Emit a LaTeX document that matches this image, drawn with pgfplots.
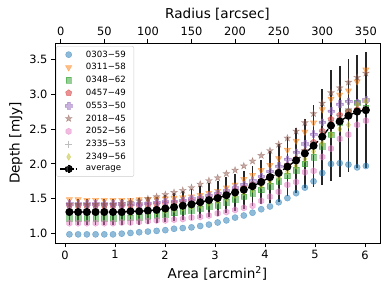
\documentclass[border=0pt]{standalone}
\usepackage{fontspec}
\setmainfont{DejaVu Sans}
\usepackage{pgfplots}
\pgfplotsset{compat=1.18}
\usepackage{pgfplotstable}
\usetikzlibrary{plotmarks}

\definecolor{tabblue}{HTML}{1F77B4}
\definecolor{taborange}{HTML}{FF7F0E}
\definecolor{tabgreen}{HTML}{2CA02C}
\definecolor{tabred}{HTML}{D62728}
\definecolor{tabpurple}{HTML}{9467BD}
\definecolor{tabbrown}{HTML}{8C564B}
\definecolor{tabpink}{HTML}{E377C2}
\definecolor{tabgray}{HTML}{7F7F7F}
\definecolor{tabolive}{HTML}{BCBD22}

\pgfdeclareplotmark{fstar}{%
  \pgfpathmoveto{\pgfpointpolar{90}{\pgfplotmarksize}}%
  \pgfpathlineto{\pgfpointpolar{126}{0.382\pgfplotmarksize}}%
  \pgfpathlineto{\pgfpointpolar{162}{\pgfplotmarksize}}%
  \pgfpathlineto{\pgfpointpolar{198}{0.382\pgfplotmarksize}}%
  \pgfpathlineto{\pgfpointpolar{234}{\pgfplotmarksize}}%
  \pgfpathlineto{\pgfpointpolar{270}{0.382\pgfplotmarksize}}%
  \pgfpathlineto{\pgfpointpolar{306}{\pgfplotmarksize}}%
  \pgfpathlineto{\pgfpointpolar{342}{0.382\pgfplotmarksize}}%
  \pgfpathlineto{\pgfpointpolar{18}{\pgfplotmarksize}}%
  \pgfpathlineto{\pgfpointpolar{54}{0.382\pgfplotmarksize}}%
  \pgfpathclose\pgfusepathqfillstroke}
\pgfdeclareplotmark{fplus}{%
  \pgfpathmoveto{\pgfpoint{0.333\pgfplotmarksize}{\pgfplotmarksize}}%
  \pgfpathlineto{\pgfpoint{-0.333\pgfplotmarksize}{\pgfplotmarksize}}%
  \pgfpathlineto{\pgfpoint{-0.333\pgfplotmarksize}{0.333\pgfplotmarksize}}%
  \pgfpathlineto{\pgfpoint{-\pgfplotmarksize}{0.333\pgfplotmarksize}}%
  \pgfpathlineto{\pgfpoint{-\pgfplotmarksize}{-0.333\pgfplotmarksize}}%
  \pgfpathlineto{\pgfpoint{-0.333\pgfplotmarksize}{-0.333\pgfplotmarksize}}%
  \pgfpathlineto{\pgfpoint{-0.333\pgfplotmarksize}{-\pgfplotmarksize}}%
  \pgfpathlineto{\pgfpoint{0.333\pgfplotmarksize}{-\pgfplotmarksize}}%
  \pgfpathlineto{\pgfpoint{0.333\pgfplotmarksize}{-0.333\pgfplotmarksize}}%
  \pgfpathlineto{\pgfpoint{\pgfplotmarksize}{-0.333\pgfplotmarksize}}%
  \pgfpathlineto{\pgfpoint{\pgfplotmarksize}{0.333\pgfplotmarksize}}%
  \pgfpathlineto{\pgfpoint{0.333\pgfplotmarksize}{0.333\pgfplotmarksize}}%
  \pgfpathclose\pgfusepathqfillstroke}
\pgfdeclareplotmark{fhex}{%
  \pgfpathmoveto{\pgfpointpolar{90}{\pgfplotmarksize}}%
  \pgfpathlineto{\pgfpointpolar{150}{\pgfplotmarksize}}%
  \pgfpathlineto{\pgfpointpolar{210}{\pgfplotmarksize}}%
  \pgfpathlineto{\pgfpointpolar{270}{\pgfplotmarksize}}%
  \pgfpathlineto{\pgfpointpolar{330}{\pgfplotmarksize}}%
  \pgfpathlineto{\pgfpointpolar{30}{\pgfplotmarksize}}%
  \pgfpathclose\pgfusepathqfillstroke}

\pgfplotstableread{
r blue orange green red purple brown pink gray olive avg err
10 0.99 1.49 1.22 1.40 1.43 1.42 1.15 1.35 1.30 1.31 0.19
20 0.99 1.49 1.22 1.40 1.43 1.42 1.15 1.35 1.30 1.31 0.19
30 0.99 1.48 1.22 1.40 1.43 1.42 1.15 1.35 1.30 1.31 0.19
40 0.99 1.48 1.22 1.40 1.43 1.42 1.15 1.35 1.30 1.31 0.19
50 0.99 1.48 1.22 1.40 1.43 1.42 1.15 1.35 1.30 1.31 0.19
60 0.99 1.48 1.22 1.40 1.43 1.42 1.15 1.35 1.30 1.31 0.19
70 1.00 1.48 1.23 1.40 1.43 1.43 1.16 1.35 1.30 1.31 0.19
80 1.01 1.48 1.23 1.40 1.43 1.45 1.16 1.35 1.30 1.32 0.19
90 1.02 1.49 1.24 1.40 1.43 1.47 1.17 1.35 1.30 1.32 0.19
100 1.03 1.49 1.25 1.41 1.44 1.50 1.18 1.36 1.31 1.33 0.19
110 1.04 1.50 1.26 1.42 1.45 1.53 1.19 1.37 1.32 1.34 0.19
120 1.05 1.50 1.28 1.43 1.46 1.56 1.19 1.38 1.33 1.36 0.19
130 1.07 1.51 1.30 1.44 1.47 1.59 1.20 1.40 1.35 1.38 0.20
140 1.08 1.52 1.32 1.45 1.48 1.62 1.21 1.42 1.37 1.40 0.21
150 1.09 1.53 1.34 1.47 1.50 1.66 1.23 1.44 1.39 1.42 0.22
160 1.11 1.55 1.36 1.49 1.52 1.71 1.24 1.47 1.41 1.45 0.23
170 1.13 1.58 1.39 1.51 1.55 1.76 1.26 1.50 1.44 1.48 0.24
180 1.16 1.61 1.41 1.54 1.58 1.80 1.29 1.53 1.47 1.51 0.25
190 1.19 1.66 1.45 1.58 1.62 1.86 1.31 1.57 1.51 1.55 0.26
200 1.23 1.70 1.49 1.62 1.66 1.91 1.34 1.61 1.55 1.59 0.27
210 1.26 1.78 1.53 1.66 1.71 1.97 1.37 1.66 1.59 1.63 0.27
220 1.30 1.84 1.58 1.71 1.76 2.04 1.40 1.71 1.64 1.68 0.29
230 1.35 1.91 1.63 1.76 1.82 2.12 1.47 1.77 1.69 1.74 0.32
240 1.39 1.98 1.68 1.82 1.89 2.19 1.53 1.84 1.75 1.81 0.37
250 1.45 2.08 1.75 1.89 1.97 2.28 1.60 1.91 1.81 1.87 0.41
260 1.51 2.20 1.83 1.98 2.07 2.37 1.70 2.00 1.89 1.96 0.42
270 1.58 2.33 1.91 2.07 2.17 2.47 1.74 2.09 1.97 2.05 0.46
280 1.66 2.46 2.00 2.18 2.29 2.59 1.88 2.20 2.07 2.15 0.50
290 1.75 2.59 2.10 2.31 2.43 2.72 1.90 2.32 2.18 2.26 0.59
300 1.87 2.78 2.25 2.47 2.60 2.87 2.10 2.47 2.30 2.39 0.69
310 2.00 2.93 2.42 2.64 2.76 3.02 2.22 2.62 2.42 2.55 0.79
320 2.01 2.99 2.60 2.70 2.86 3.09 2.36 2.70 2.50 2.61 0.80
330 1.99 3.05 2.75 2.75 2.90 3.17 2.42 2.80 2.56 2.69 0.81
340 1.95 3.18 2.88 2.78 2.88 3.24 2.56 2.85 2.85 2.75 0.81
350 1.97 3.35 2.80 2.78 2.92 3.30 2.62 2.88 2.90 2.77 0.83
}\data

\pgfplotsset{
  common/.style={
    at={(0pt,0pt)}, anchor=south west, scale only axis,
    width=325pt, height=200pt, ymin=0.866, ymax=3.733,
    tick align=outside, major tick length=4pt,
    tick style={black, line width=0.8pt},
    axis line style={line width=0.8pt},
    ticklabel style={font=\fontsize{11.4}{13}\selectfont},
    label style={font=\fontsize{13.6}{16}\selectfont},
    /pgf/number format/assume math mode=true,
  },
  mlegend/.style={legend image code/.code={%
    \draw[mark repeat=2, mark phase=2, ##1] plot coordinates {(0pt,0pt) (8.5pt,0pt) (17pt,0pt)};}},
}

\begin{document}
\begin{tikzpicture}
\useasboundingbox (-55pt,-50pt) rectangle (335pt,243pt);
\begin{axis}[common,
  xmin=-0.2, xmax=6.3,
  axis x line*=bottom, axis y line=none,
  xtick={0,1,2,3,4,5,6},
  xlabel={Area [arcmin\textsuperscript{2}]},
]
\end{axis}
\begin{axis}[common,
  xmin=-6.54, xmax=366.2,
  xtick={0,50,100,150,200,250,300,350},
  xtick pos=right, xticklabel pos=right,
  ytick={1,1.5,2,2.5,3,3.5}, ytick pos=left,
  yticklabel style={/pgf/number format/.cd, fixed, fixed zerofill, precision=1},
  xlabel={Radius [arcsec]}, ylabel={Depth [mJy]},
  legend style={at={(axis description cs:0.004,0.985)}, anchor=north west,
    font=\fontsize{8.6}{9}\selectfont, draw=black!20, rounded corners=2pt,
    fill=white, fill opacity=0.8, text opacity=1, draw opacity=1,
    row sep=0.9pt, inner xsep=3pt, inner ysep=2.5pt,
    nodes={inner xsep=5pt},
    /tikz/every odd column/.append style={column sep=3pt}},
  legend cell align=left,
]
\addplot[only marks, mlegend, mark=*, mark size=3.1pt,
  mark options={draw=tabblue, fill=tabblue, opacity=0.5}] table[x=r, y=blue] {\data};
\addlegendentry{0303−59}
\addplot[only marks, mlegend, mark=triangle*, mark size=3.7pt,
  mark options={draw=taborange, fill=taborange, opacity=0.5, rotate=180}] table[x=r, y=orange] {\data};
\addlegendentry{0311−58}
\addplot[only marks, mlegend, mark=square*, mark size=2.8pt,
  mark options={draw=tabgreen, fill=tabgreen, opacity=0.5}] table[x=r, y=green] {\data};
\addlegendentry{0348−62}
\addplot[only marks, mlegend, mark=pentagon*, mark size=3.3pt,
  mark options={draw=tabred, fill=tabred, opacity=0.5}] table[x=r, y=red] {\data};
\addlegendentry{0457−49}
\addplot[only marks, mlegend, mark=fplus, mark size=3.3pt,
  mark options={draw=tabpurple, fill=tabpurple, opacity=0.5}] table[x=r, y=purple] {\data};
\addlegendentry{0553−50}
\addplot[only marks, mlegend, mark=fstar, mark size=3.6pt,
  mark options={draw=tabbrown, fill=tabbrown, opacity=0.5}] table[x=r, y=brown] {\data};
\addlegendentry{2018−45}
\addplot[only marks, mlegend, mark=fhex, mark size=3.2pt,
  mark options={draw=tabpink, fill=tabpink, opacity=0.5}] table[x=r, y=pink] {\data};
\addlegendentry{2052−56}
\addplot[only marks, mlegend, mark=+, mark size=3.4pt,
  mark options={draw=tabgray, opacity=0.5, line width=1pt}] table[x=r, y=gray] {\data};
\addlegendentry{2335−53}
\addplot[only marks, mlegend, mark=diamond*, mark size=3.4pt,
  mark options={draw=tabolive, fill=tabolive, opacity=0.5, xscale=0.8}] table[x=r, y=olive] {\data};
\addlegendentry{2349−56}
\addplot[black, line width=1.4pt, dash pattern=on 5.5pt off 2.4pt,
  mark=*, mark size=3.3pt, mark options={solid, fill=black},
  legend image code/.code={%
    \draw[black, line width=1.4pt, dash pattern=on 5.5pt off 2.4pt] (0pt,0pt) -- (17pt,0pt);
    \draw[black, line width=1.8pt] (8.5pt,-4pt) -- (8.5pt,4pt);
    \fill[black] (8.5pt,0pt) circle (3.3pt);},
  error bars/.cd, y dir=both, y explicit, error mark=none,
  error bar style={line width=1.8pt, solid, black!85}]
  table[x=r, y=avg, y error=err] {\data};
\addlegendentry{average}
\end{axis}
\end{tikzpicture}
\end{document}
